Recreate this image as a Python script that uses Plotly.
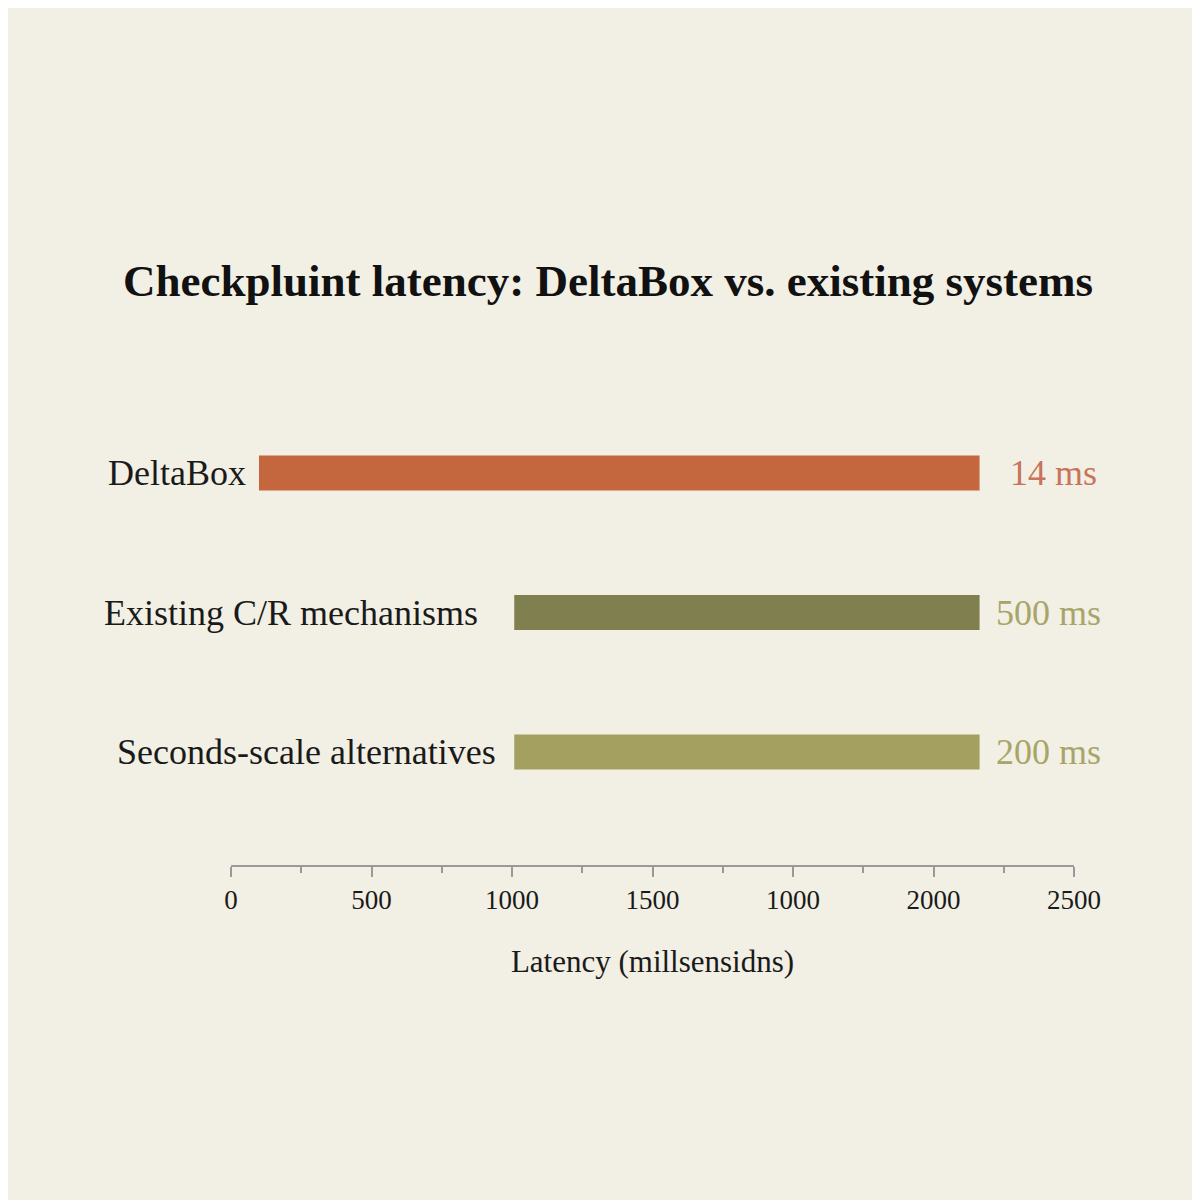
import plotly.graph_objects as go

systems = ["DeltaBox", "Existing C/R mechanisms", "Seconds-scale alternatives"]
bar_start = [83, 840, 840]
bar_end = [2220, 2220, 2220]
value_labels = ["14 ms", "500 ms", "200 ms"]
bar_colors = ["#c4673f", "#7f7f4f", "#a3a060"]
label_colors = ["#c9735a", "#a8a56a", "#a8a56a"]
tick_text = ["0", "500", "1000", "1500", "1000", "2000", "2500"]

font = "Liberation Serif, DejaVu Serif, serif"
ypos = list(range(len(systems)))
name_gap = [-11, -34, -16]
value_gap = [28, 14, 14]

fig = go.Figure(go.Bar(
    y=ypos,
    x=[e - s for s, e in zip(bar_start, bar_end)],
    base=bar_start,
    orientation="h",
    width=0.25,
    marker=dict(color=bar_colors, line=dict(width=0)),
    hoverinfo="skip",
))

for i, name in enumerate(systems):
    fig.add_annotation(x=bar_start[i], y=i, text=name, showarrow=False,
                       xanchor="right", xshift=name_gap[i],
                       font=dict(family=font, size=36, color="#1a1a1a"))
    fig.add_annotation(x=bar_end[i], y=i, text=value_labels[i], showarrow=False,
                       xanchor="left", xshift=value_gap[i],
                       font=dict(family=font, size=36, color=label_colors[i]))

tick_vals = [i * 2500 / 6 for i in range(7)]
fig.update_layout(
    width=1200, height=1200,
    paper_bgcolor="#f2efe4", plot_bgcolor="#f2efe4",
    margin=dict(l=223, r=134, t=412, b=343),
    showlegend=False,
    title=dict(text="<b>Checkpluint latency: DeltaBox vs. existing systems</b>",
               x=0.5, xanchor="center", y=0.773, yanchor="middle",
               font=dict(family=font, size=45, color="#111111")),
    xaxis=dict(range=[0, 2500], tickvals=tick_vals, ticktext=tick_text,
               showgrid=False, zeroline=False, showline=True,
               linecolor="#999999", linewidth=2,
               ticks="outside", ticklen=10, tickcolor="#999999", tickwidth=2,
               minor=dict(ticks="outside", ticklen=6, tickcolor="#999999",
                          tickvals=[v + 2500 / 12 for v in tick_vals[:-1]]),
               tickfont=dict(family=font, size=27, color="#1a1a1a"),
               title=dict(text="Latency (millsensidns)", standoff=36,
                          font=dict(family=font, size=31, color="#1a1a1a"))),
    yaxis=dict(range=[2.81, -0.38], visible=False),
)

fig.write_html("out.html")
